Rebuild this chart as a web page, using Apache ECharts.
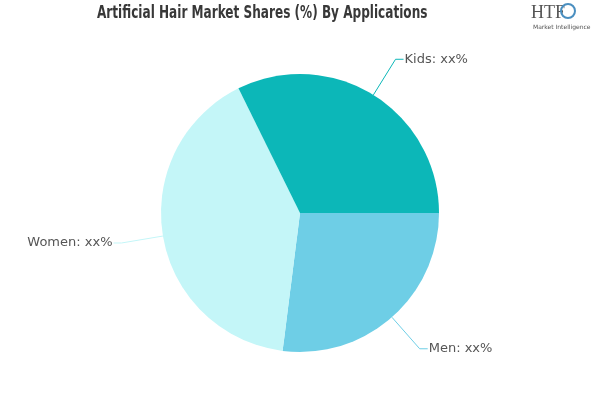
<!DOCTYPE html>
<html><head><meta charset="utf-8">
<script src="https://cdn.jsdelivr.net/npm/echarts@6/dist/echarts.min.js"></script>
<style>html,body{margin:0;padding:0;background:#fff}#c{width:600px;height:400px}</style>
</head><body><div id="c"></div>
<script>
const categories = ['Men', 'Women', 'Kids'];
const values = [27, 40.7, 32.3];
const labelTexts = ['xx%', 'xx%', 'xx%'];
const colors = ['#6ecee6', '#c4f6f8', '#0cb7b8'];
const titleText = 'Artificial Hair Market Shares (%) By Applications';

const chart = echarts.init(document.getElementById('c'), null, {renderer: 'canvas'});
chart.setOption({
  animation: false,
  graphic: [
    {type: 'text', x: 97, y: 5, scaleX: 0.79, style: {text: titleText, font: 'bold 17px "Liberation Sans Narrow", "DejaVu Sans Condensed", sans-serif', fill: '#383838'}},
    {type: 'text', left: 531, top: 4, style: {text: 'HTF', font: '18px "Liberation Serif", serif', fill: '#555'}},
    {type: 'circle', shape: {cx: 568, cy: 11, r: 7}, style: {fill: 'none', stroke: '#4a8fc0', lineWidth: 2}},
    {type: 'text', left: 533, top: 24, style: {text: 'Market Intelligence', font: '6px "DejaVu Sans", sans-serif', fill: '#555'}}
  ],
  series: [{
    type: 'pie',
    center: [300, 213],
    radius: 139,
    startAngle: 0,
    clockwise: true,
    color: colors,
    label: {
      formatter: p => p.name + ': ' + labelTexts[p.dataIndex],
      fontFamily: '"DejaVu Sans", Verdana, sans-serif',
      fontSize: 13,
      color: '#555',
      distanceToLabelLine: 1
    },
    labelLine: {length: 42, length2: 8, lineStyle: {width: 1}},
    emphasis: {disabled: true},
    data: categories.map((c, i) => ({name: c, value: values[i]}))
  }]
});
</script></body></html>
